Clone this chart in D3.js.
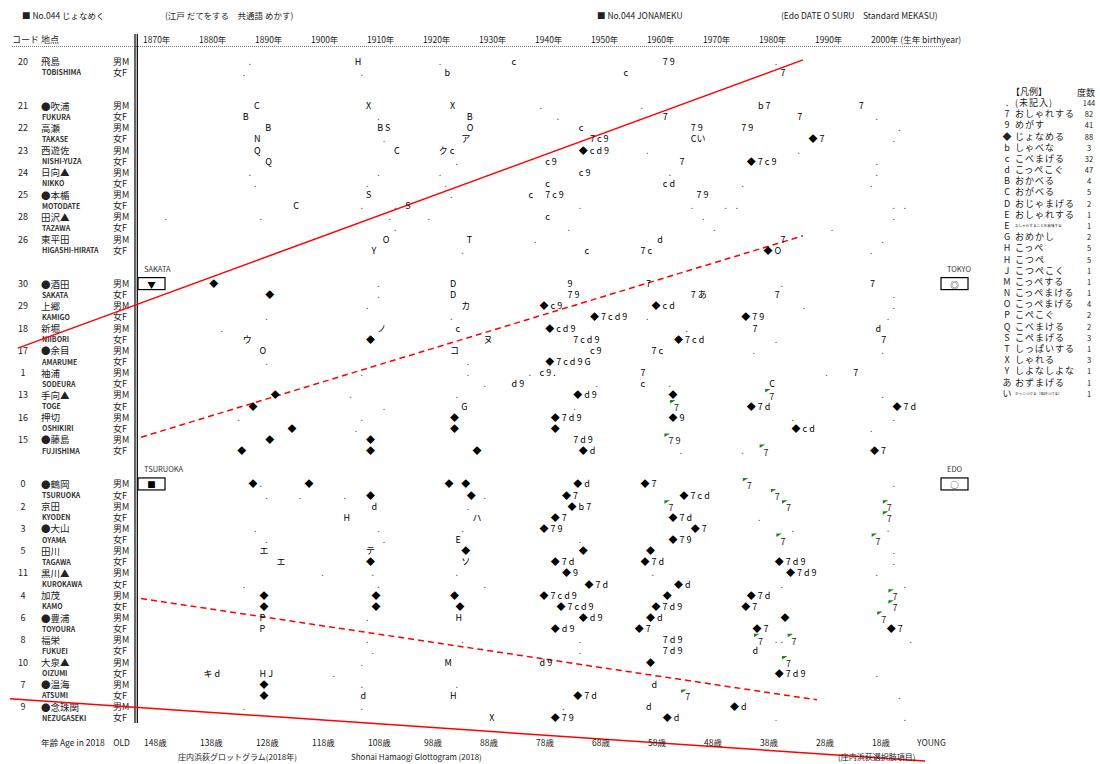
<!DOCTYPE html>
<html><head><meta charset="utf-8">
<script src="https://cdn.jsdelivr.net/npm/d3@7"></script>
<style>
body{margin:0;background:#fff}
text{font-family:"Noto Sans CJK JP","Noto Sans",sans-serif;}
</style>
</head><body>
<svg id="c" width="1100" height="764"></svg>
<script>
// ---------------- DATA ----------------
// row order (null = blank pair of rows)
const rowOrder = ["20",null,"21","22","23","24","25","28","26",null,
  "30","29","18","17","1","13","16","15",null,
  "0","2","3","5","11","4","6","8","10","7","9"];
const locNames = {
  "20":["飛島","TOBISHIMA"],"21":["●吹浦","FUKURA"],"22":["高瀬","TAKASE"],
  "23":["西遊佐","NISHI-YUZA"],"24":["日向▲","NIKKO"],"25":["●本楯","MOTODATE"],
  "28":["田沢▲","TAZAWA"],"26":["東平田","HIGASHI-HIRATA"],
  "30":["●酒田","SAKATA"],"29":["上郷","KAMIGO"],"18":["新堀","NIIBORI"],
  "17":["●余目","AMARUME"],"1":["袖浦","SODEURA"],"13":["手向▲","TOGE"],
  "16":["押切","OSHIKIRI"],"15":["●藤島","FUJISHIMA"],
  "0":["●鶴岡","TSURUOKA"],"2":["京田","KYODEN"],"3":["●大山","OYAMA"],
  "5":["田川","TAGAWA"],"11":["黒川▲","KUROKAWA"],"4":["加茂","KAMO"],
  "6":["●豊浦","TOYOURA"],"8":["福栄","FUKUEI"],"10":["大泉▲","OIZUMI"],
  "7":["●温海","ATSUMI"],"9":["●念珠関","NEZUGASEKI"]
};
const yearTicks = [1870,1880,1890,1900,1910,1920,1930,1940,1950,1960,1970,1980,1990,2000];
const ageTicks = ["148歳","138歳","128歳","118歳","108歳","98歳","88歳","78歳","68歳","58歳","48歳","38歳","28歳","18歳"];

// marks: [code, sex, birth year, answer codes]  ("^" = green flagged cell)
const marksNorth = [
 ["20","M",1889,"."],["20","M",1908,"H"],["20","M",1923,"."],["20","M",1936,"c"],["20","M",1963,"7 9"],["20","M",1983,"."],
 ["20","F",1888,"."],["20","F",1909,"."],["20","F",1924,"b"],["20","F",1956,"c"],["20","F",1984,"7"],
 ["21","M",1890,"C"],["21","M",1910,"X"],["21","M",1925,"X"],["21","M",1941,"."],["21","M",1959,"."],["21","M",1980,"b 7"],["21","M",1998,"7"],
 ["21","F",1888,"B"],["21","F",1912,"."],["21","F",1928,"B"],["21","F",1944,"."],["21","F",1963,"7"],["21","F",1987,"7"],["21","F",2001,"."],
 ["22","M",1892,"B"],["22","M",1912,"B S"],["22","M",1928,"O"],["22","M",1948,"c"],["22","M",1968,"7 9"],["22","M",1977,"7 9"],["22","M",2005,"."],
 ["22","F",1890,"N"],["22","F",1913,"."],["22","F",1927,"ア"],["22","F",1950,"7 c 9"],["22","F",1968,"Cい"],["22","F",1989,"◆ 7"],["22","F",2004,"."],
 ["23","M",1890,"Q"],["23","M",1915,"C"],["23","M",1923,"ク c"],["23","M",1948,"◆ c d 9"],["23","M",1960,"."],["23","M",1987,"."],
 ["23","F",1892,"Q"],["23","F",1926,"."],["23","F",1942,"c 9"],["23","F",1966,"7"],["23","F",1978,"◆ 7 c 9"],["23","F",2001,"."],
 ["24","M",1889,"."],["24","M",1912,"."],["24","M",1923,"."],["24","M",1948,"c 9"],["24","M",1964,"."],["24","M",2001,"."],
 ["24","F",1890,"."],["24","F",1910,"."],["24","F",1924,"."],["24","F",1942,"c"],["24","F",1963,"c d"],["24","F",1977,"."],["24","F",2000,"."],
 ["25","M",1910,"S"],["25","M",1925,"."],["25","M",1939,"c"],["25","M",1942,"7 c 9"],["25","M",1969,"7 9"],
 ["25","F",1897,"C"],["25","F",1909,"."],["25","F",1915,"."],["25","F",1917,"S"],["25","F",1948,"."],["25","F",1968,"."],["25","F",1974,"."],["25","F",1976,"."],["25","F",2004,"."],["25","F",2006,"."],
 ["28","M",1874,"."],["28","M",1891,"."],["28","M",1914,"."],["28","M",1921,"."],["28","M",1942,"c"],["28","M",1970,"."],["28","M",2004,"."],
 ["28","F",1915,"."],["28","F",1946,"."],["28","F",1972,"."],["28","F",1993,"."],
 ["26","M",1913,"O"],["26","M",1928,"T"],["26","M",1940,"."],["26","M",1962,"d"],["26","M",1984,"7"],["26","M",2002,"."],
 ["26","F",1911,"Y"],["26","F",1927,"."],["26","F",1949,"c"],["26","F",1959,"7 c"],["26","F",1981,"◆ O"],["26","F",2000,"."]
];
const marksMiddle = [
 ["30","M",1882,"◆"],["30","M",1912,"."],["30","M",1925,"D"],["30","M",1946,"9"],["30","M",1960,"7"],["30","M",1984,"."],["30","M",2000,"7"],
 ["30","F",1892,"◆"],["30","F",1912,"."],["30","F",1925,"D"],["30","F",1946,"7 9"],["30","F",1968,"7 あ"],["30","F",1983,"7"],["30","F",2004,"."],
 ["29","M",1910,"."],["29","M",1927,"カ"],["29","M",1941,"◆ c 9"],["29","M",1961,"◆ c d"],["29","M",1988,"."],["29","M",2004,"."],
 ["29","F",1892,"."],["29","F",1925,"."],["29","F",1950,"◆ 7 c d 9"],["29","F",1960,"."],["29","F",1977,"◆ 7 9"],["29","F",2003,"."],
 ["18","M",1884,"."],["18","M",1912,"ノ"],["18","M",1926,"c"],["18","M",1942,"◆ c d 9"],["18","M",1967,"."],["18","M",1979,"7"],["18","M",2001,"d"],
 ["18","F",1888,"ウ"],["18","F",1910,"◆"],["18","F",1931,"ヌ"],["18","F",1947,"7 c d 9"],["18","F",1965,"◆ 7 c d"],["18","F",1983,"."],["18","F",2002,"7"],
 ["17","M",1891,"O"],["17","M",1925,"コ"],["17","M",1950,"c 9"],["17","M",1961,"7 c"],["17","M",1979,"."],["17","M",2002,"."],
 ["17","F",1892,"."],["17","F",1928,"."],["17","F",1942,"◆ 7 c d 9 G"],
 ["1","M",1909,"."],["1","M",1928,"."],["1","M",1939,"."],["1","M",1941,"c 9 ."],["1","M",1959,"7"],["1","M",1992,"."],["1","M",1997,"7"],
 ["1","F",1931,"."],["1","F",1936,"d 9"],["1","F",1951,"."],["1","F",1959,"c"],["1","F",1964,"."],["1","F",1982,"C"],
 ["13","M",1893,"◆"],["13","M",1907,"."],["13","M",1926,"."],["13","M",1947,"◆ d 9"],["13","M",1964,"◆"],["13","M",1982,"^7"],["13","M",2002,"."],
 ["13","F",1889,"◆"],["13","F",1913,"."],["13","F",1927,"G"],["13","F",1947,"."],["13","F",1965,"^7"],["13","F",1978,"◆ 7 d"],["13","F",2004,"◆ 7 d"],
 ["16","M",1887,"."],["16","M",1909,"."],["16","M",1925,"◆"],["16","M",1943,"◆ 7 d 9"],["16","M",1964,"◆ 9"],["16","M",1986,"."],["16","M",2004,"."],
 ["16","F",1896,"◆"],["16","F",1908,"."],["16","F",1925,"◆"],["16","F",1943,"◆"],["16","F",1986,"◆ c d"],["16","F",2000,"."],
 ["15","M",1892,"◆"],["15","M",1910,"◆"],["15","M",1947,"7 d 9"],["15","M",1964,"^7 9"],
 ["15","F",1887,"◆"],["15","F",1910,"◆"],["15","F",1929,"◆"],["15","F",1948,"◆ d"],["15","F",1966,"."],["15","F",1977,"."],["15","F",1981,"^7"],["15","F",2000,"◆ 7"]
];
const marksSouth = [
 ["0","M",1889,"◆"],["0","M",1891,"."],["0","M",1899,"◆"],["0","M",1924,"◆"],["0","M",1927,"◆"],["0","M",1947,"◆ d"],["0","M",1959,"◆ 7"],["0","M",1978,"^7"],["0","M",2004,"."],
 ["0","F",1892,"."],["0","F",1898,"."],["0","F",1906,"."],["0","F",1910,"◆"],["0","F",1928,"◆"],["0","F",1931,"."],["0","F",1945,"◆ 7"],["0","F",1966,"◆ 7 c d"],["0","F",1983,"^7"],
 ["2","M",1911,"d"],["2","M",1928,"."],["2","M",1946,"◆ b 7"],["2","M",1964,"^7"],["2","M",1985,"^7"],["2","M",2003,"^7"],
 ["2","F",1906,"H"],["2","F",1929,"ハ"],["2","F",1943,"◆ 7"],["2","F",1964,"◆ 7 d"],["2","F",1980,"."],["2","F",2003,"^7"],
 ["3","M",1890,"."],["3","M",1912,"."],["3","M",1927,"."],["3","M",1941,"◆ 7 9"],["3","M",1968,"◆ 7"],["3","M",1986,"."],["3","M",2003,"."],
 ["3","F",1892,"."],["3","F",1913,"."],["3","F",1926,"E"],["3","F",1948,"."],["3","F",1964,"◆ 7 9"],["3","F",1984,"^7"],["3","F",2001,"^7"],
 ["5","M",1891,"エ"],["5","M",1910,"テ"],["5","M",1927,"◆"],["5","M",1948,"◆"],["5","M",1960,"◆"],["5","M",2004,"."],
 ["5","F",1894,"エ"],["5","F",1910,"◆"],["5","F",1927,"ソ"],["5","F",1943,"◆ 7 d"],["5","F",1959,"◆ 7 d"],["5","F",1983,"◆ 7 d 9"],["5","F",2004,"."],
 ["11","M",1902,"."],["11","M",1911,"."],["11","M",1926,"."],["11","M",1945,"◆ 9"],["11","M",1961,"."],["11","M",1985,"◆ 7 d 9"],["11","M",2001,"."],
 ["11","F",1888,"."],["11","F",1912,"."],["11","F",1931,"."],["11","F",1949,"◆ 7 d"],["11","F",1965,"◆ d"],["11","F",1984,"."],["11","F",2006,"."],
 ["4","M",1891,"◆"],["4","M",1911,"◆"],["4","M",1925,"◆"],["4","M",1941,"◆ 7 c d 9"],["4","M",1963,"◆"],["4","M",1978,"◆ 7 d"],["4","M",2004,"^7"],
 ["4","F",1891,"◆"],["4","F",1911,"◆"],["4","F",1926,"◆"],["4","F",1944,"◆ 7 c d 9"],["4","F",1961,"◆ 7 d 9"],["4","F",1977,"◆ 7"],["4","F",2004,"^7"],
 ["6","M",1891,"P"],["6","M",1910,"."],["6","M",1926,"H"],["6","M",1948,"◆ d 9"],["6","M",1960,"◆ d"],["6","M",1984,"◆"],["6","M",2002,"^7"],
 ["6","F",1891,"P"],["6","F",1909,"."],["6","F",1943,"◆ d 9"],["6","F",1958,"◆ 7"],["6","F",1979,"◆ 7"],["6","F",2003,"◆ 7"],
 ["8","M",1910,"."],["8","M",1927,"."],["8","M",1948,"."],["8","M",1963,"7 d 9"],["8","M",1980,"^7"],["8","M",1983,"."],["8","M",1984,"."],["8","M",1986,"^7"],["8","M",2007,"."],
 ["8","F",1911,"."],["8","F",1948,"."],["8","F",1963,"7 d 9"],["8","F",1979,"d"],
 ["10","M",1909,"."],["10","M",1924,"M"],["10","M",1941,"d 9"],["10","M",1960,"◆"],["10","M",1985,"^7"],
 ["10","F",1881,"キ d"],["10","F",1891,"H J"],["10","F",1904,"."],["10","F",1983,"◆ 7 d 9"],["10","F",2001,"."],
 ["7","M",1891,"◆"],["7","M",1909,"."],["7","M",1926,"."],["7","M",1961,"d"],
 ["7","F",1891,"◆"],["7","F",1909,"d"],["7","F",1925,"H"],["7","F",1947,"◆ 7 d"],["7","F",1967,"^7"],["7","F",2005,"."],
 ["9","M",1888,"."],["9","M",1909,"."],["9","M",1945,"."],["9","M",1960,"d"],["9","M",1975,"◆ d"],
 ["9","F",1932,"X"],["9","F",1943,"◆ 7 9"],["9","F",1963,"◆ d"],["9","F",1983,"."],["9","F",2006,"."]
];
// isogloss lines: [yearStart,rowStart,yearEnd,rowEnd,dashed]
const isoglosses = [
 [1847.3,25.8,1987.5,-0.1,false],
 [1869.3,33.8,1987.5,15.7,true],
 [1869.3,48.3,1990.0,57.4,true],
 [1845.9,57.3,2009.3,62.9,false]
];
const legendSymbols = [".","7","9","◆","b","c","d","B","C","D","E","E","G","H","H","J","M","N","O","P","Q","S","T","X","Y","あ","い"];
const legendLabels = ["(未記入)","おしゃれする","めがす","じょなめる","しゃべな","こべまげる","こっぺこぐ","おかべる","おがべる","おじゃまげる","おしゃれする","おしゃれすることを意味する","おめかし","こっぺ","こつぺ","こつぺこく","こっぺする","こっぺまける","こっぺまげる","こぺこぐ","こべまける","こぺまげる","しっぱいする","しゃれる","しよなしよな","おずまげる","かっこつける（格好つける）"];
const legendCounts = [144,82,41,88,3,32,47,4,5,2,1,1,2,5,5,1,1,1,4,2,2,3,1,3,1,1,1];
const smallLegend = [11,26];

// ---------------- DRAW ----------------
const svg = d3.select("#c");
const x = d3.scaleLinear().domain([1870,2000]).range([145,873]);
const y = d3.scaleLinear().domain([0,59]).range([61,61+59*11.13]);
const rowIdx = (code,sex)=>2*rowOrder.indexOf(code)+(sex==="F"?1:0);
const ink = "#222";

// title
const t = svg.append("g").attr("font-size",8.5).attr("fill",ink);
t.append("text").attr("x",22).attr("y",19).text("■ No.044 じょなめく");
t.append("text").attr("x",165).attr("y",19).text("(江戸 だてをする　共通語 めかす)");
t.append("text").attr("x",597).attr("y",19).text("■ No.044 JONAMEKU");
t.append("text").attr("x",781).attr("y",19).text("(Edo DATE O SURU　Standard MEKASU)");

// header row
const hy = 43;
t.append("text").attr("x",12).attr("y",hy).attr("font-size",9).text("コード  地点");
yearTicks.forEach((yr,i)=>{
  t.append("text").attr("x",x(yr)-2).attr("y",hy).attr("font-size",8.5)
   .text(yr+"年"+(i===yearTicks.length-1?" (生年 birthyear)":""));
});
svg.append("line").attr("x1",12).attr("x2",945).attr("y1",hy+3.5).attr("y2",hy+3.5)
  .attr("stroke","#777").attr("stroke-width",1).attr("stroke-dasharray","1,1");

// vertical separator
svg.append("line").attr("x1",135).attr("x2",135).attr("y1",hy-9).attr("y2",723).attr("stroke","#000").attr("stroke-width",1.2);
svg.append("line").attr("x1",137.3).attr("x2",137.3).attr("y1",hy-9).attr("y2",723).attr("stroke","#000").attr("stroke-width",1.2);

// left labels
const lab = svg.append("g").attr("fill",ink).attr("dominant-baseline","central");
rowOrder.forEach(code=>{
  if(code===null) return;
  const rm = y(rowIdx(code,"M")), rf = y(rowIdx(code,"F"));
  lab.append("text").attr("x",23).attr("y",rm).attr("text-anchor","middle").attr("font-size",9).text(code);
  lab.append("text").attr("x",41).attr("y",rm).attr("font-size",9.5).text(locNames[code][0]);
  lab.append("text").attr("x",42).attr("y",rf).attr("font-size",7).attr("font-weight","bold").attr("fill","#333").text(locNames[code][1]);
  lab.append("text").attr("x",113).attr("y",rm).attr("font-size",9).text("男M");
  lab.append("text").attr("x",113).attr("y",rf).attr("font-size",9).text("女F");
});

// isoglosses
svg.append("g").selectAll("line").data(isoglosses).join("line")
  .attr("x1",d=>x(d[0])).attr("y1",d=>y(d[1])).attr("x2",d=>x(d[2])).attr("y2",d=>y(d[3]))
  .attr("stroke","#f00").attr("stroke-width",1.5)
  .attr("stroke-dasharray",d=>d[4]?"6,4":null);

// marks
const allMarks = marksNorth.concat(marksMiddle, marksSouth);
const mg = svg.append("g").attr("font-size",9).attr("dominant-baseline","central");
allMarks.forEach(m=>{
  const [code,sex,yr,lbl] = m;
  const cx = x(yr)-3, cy = y(rowIdx(code,sex));
  let s = lbl;
  if(s.startsWith("^")){
    s = s.slice(1);
    mg.append("path").attr("d",`M${cx-4},${cy-6}L${cx+1.5},${cy-6}L${cx-4},${cy-2.5}Z`).attr("fill","#168a16");
    mg.append("text").attr("x",cx).attr("y",cy+1.5).attr("fill",ink).text(s);
    return;
  }
  mg.append("text").attr("x",cx).attr("y",cy).attr("fill",s==="."?"#555":"#000").text(s);
});

// reference boxes
const boxes = [["SAKATA","▼",138,"30"],["TOKYO","◎",941,"30"],["TSURUOKA","■",138,"0"],["EDO","○",941,"0"]];
boxes.forEach(b=>{
  const cy = y(rowIdx(b[3],"M"));
  svg.append("rect").attr("x",b[2]).attr("y",cy-6).attr("width",27).attr("height",12)
    .attr("fill","none").attr("stroke","#000").attr("stroke-width",1.2);
  svg.append("text").attr("x",b[2]+13.5).attr("y",cy).attr("text-anchor","middle").attr("dominant-baseline","central")
    .attr("font-size",8.5).text(b[1]);
  svg.append("text").attr("x",b[2]+6).attr("y",cy-12).attr("font-size",7.5).attr("fill","#333").text(b[0]);
});

// legend
const lg = svg.append("g").attr("font-size",9).attr("fill",ink).attr("dominant-baseline","central");
lg.append("text").attr("x",1011).attr("y",91).text("【凡例】");
lg.append("text").attr("x",1077).attr("y",92).text("度数");
legendSymbols.forEach((s,i)=>{
  const ly = 102.5 + i*11.18;
  lg.append("text").attr("x",1007).attr("y",ly).attr("text-anchor","middle").text(s);
  lg.append("text").attr("x",1015).attr("y",ly).attr("font-size",smallLegend.includes(i)?3.6:9).attr("letter-spacing",smallLegend.includes(i)?0:1).text(legendLabels[i]);
  lg.append("text").attr("x",1089).attr("y",ly).attr("text-anchor","middle").attr("font-size",7.5).text(legendCounts[i]);
});

// footer
const fy = 742;
const ft = svg.append("g").attr("font-size",8.5).attr("fill",ink).attr("dominant-baseline","central");
ft.append("text").attr("x",41).attr("y",fy).text("年齢 Age in 2018　OLD");
ageTicks.forEach((a,i)=>{
  ft.append("text").attr("x",x(yearTicks[i])-1).attr("y",fy).text(a);
});
ft.append("text").attr("x",917).attr("y",fy).text("YOUNG");
ft.append("text").attr("x",178).attr("y",756).attr("font-size",8).text("庄内浜荻グロットグラム(2018年)");
ft.append("text").attr("x",351).attr("y",756).attr("font-size",8).text("Shonai Hamaogi Glottogram (2018)");
ft.append("text").attr("x",838).attr("y",756).attr("font-size",8).text("(庄内浜荻選択肢項目)");
</script>
</body></html>
